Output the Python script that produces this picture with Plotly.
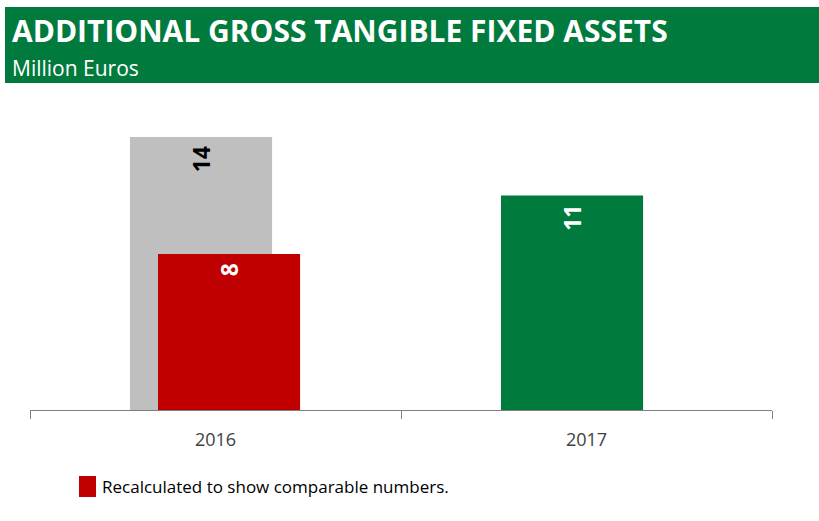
import plotly.graph_objects as go

# Data
years = ["2016", "2017"]
reported = [14, 11]          # as reported
reported_colors = ["#BFBFBF", "#007A3D"]
reported_text_colors = ["#000000", "#FFFFFF"]
recalculated = [8, None]     # recalculated, comparable basis
title_text = "ADDITIONAL GROSS TANGIBLE FIXED ASSETS"
subtitle_text = "Million Euros"
note_text = "Recalculated to show comparable numbers."

FONT = "Open Sans, sans-serif"
GREEN = "#007A3D"
RED = "#C00000"

# value label sits a little below the bar top (trailing no-break space pads it)
LABEL_TEMPLATE = "%{text}\u00a0"

fig = go.Figure()

fig.add_trace(go.Bar(
    x=years, y=reported,
    marker=dict(color=reported_colors, line=dict(width=0)),
    width=0.383, offset=-0.2305,
    text=reported, texttemplate=LABEL_TEMPLATE,
    textposition="inside", insidetextanchor="end", textangle=-90,
    textfont=dict(family=FONT, size=23, color=reported_text_colors, weight="bold"),
    constraintext="none",
    showlegend=False, hoverinfo="skip",
))

fig.add_trace(go.Bar(
    x=years, y=recalculated,
    marker=dict(color=RED, line=dict(width=0)),
    width=0.383, offset=-0.155,
    text=recalculated, texttemplate=LABEL_TEMPLATE,
    textposition="inside", insidetextanchor="end", textangle=-90,
    textfont=dict(family=FONT, size=23, color="#FFFFFF", weight="bold"),
    constraintext="none",
    showlegend=False, hoverinfo="skip",
))

L, R, T, B = 30, 47, 100, 111
W, H = 819, 521
pw, ph = W - L - R, H - T - B

def px(x):
    return (x - L) / pw

def py(y):
    return (H - B - y) / ph

fig.update_layout(
    width=W, height=H,
    margin=dict(l=L, r=R, t=T, b=B),
    paper_bgcolor="white", plot_bgcolor="white",
    barmode="overlay",
    font=dict(family=FONT, color="#404040"),
    xaxis=dict(
        type="category", range=[-0.5, 1.5],
        showline=True, linecolor="#808080", linewidth=1,
        ticks="outside", tickson="boundaries", ticklen=8, tickcolor="#808080",
        ticklabelstandoff=13,
        tickfont=dict(family=FONT, size=18, color="#404040"),
        showgrid=False, zeroline=False, fixedrange=True,
    ),
    yaxis=dict(
        range=[0, 15.9], visible=False, showgrid=False, zeroline=False,
    ),
    shapes=[
        dict(type="rect", xref="paper", yref="paper",
             x0=px(5), x1=px(819), y0=py(83), y1=py(7),
             fillcolor=GREEN, line=dict(width=0), layer="below"),
        dict(type="rect", xref="paper", yref="paper",
             x0=px(79), x1=px(96), y0=py(497), y1=py(476),
             fillcolor=RED, line=dict(width=0)),
    ],
    annotations=[
        dict(text=title_text, xref="paper", yref="paper",
             x=px(10), y=py(31), xanchor="left", yanchor="middle",
             showarrow=False,
             font=dict(family=FONT, size=30, color="white", weight="bold")),
        dict(text=subtitle_text, xref="paper", yref="paper",
             x=px(10), y=py(68), xanchor="left", yanchor="middle",
             showarrow=False,
             font=dict(family=FONT, size=21, color="white")),
        dict(text=note_text, xref="paper", yref="paper",
             x=px(100), y=py(486), xanchor="left", yanchor="middle",
             showarrow=False,
             font=dict(family=FONT, size=17, color="#000000")),
    ],
)

fig.write_html("out.html")
